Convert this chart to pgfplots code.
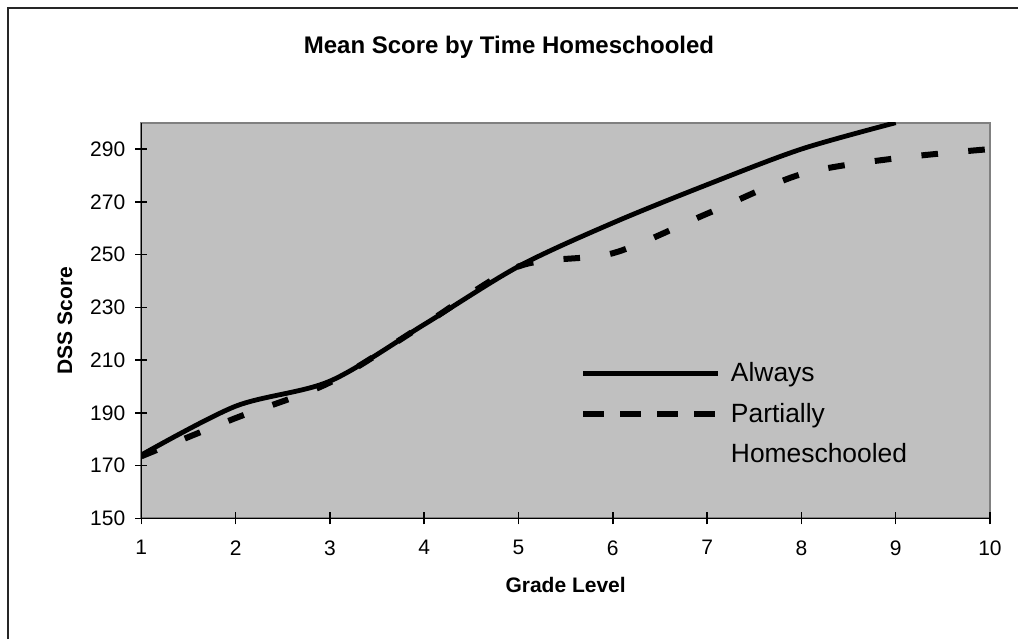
\documentclass[border=0pt]{standalone}
\usepackage{pgfplots}
\pgfplotsset{compat=1.18}
\usepackage{fontspec}
\setmainfont{Liberation Sans}
\definecolor{plotbg}{HTML}{C0C0C0}
\definecolor{plotborder}{HTML}{808080}
\begin{document}
\begin{tikzpicture}
\useasboundingbox (0pt,0pt) rectangle (509pt,319.5pt);
\draw[line width=1pt, black!85] (4pt,0pt) -- (4pt,315.5pt) -- (509pt,315.5pt);
\node[anchor=base, font=\bfseries\fontsize{12}{14}\selectfont] at (254.5pt,292.85pt) {Mean Score by Time Homeschooled};
\begin{axis}[
  at={(70.65pt,60.35pt)}, anchor=south west,
  scale only axis, width=424.35pt, height=197.8pt,
  xmin=1, xmax=10, ymin=150, ymax=300,
  xtick={1,2,...,10}, ytick={150,170,...,290},
  axis x line*=bottom, axis y line*=left,
  axis line style={-, black, line width=0.75pt},
  axis background/.style={fill=plotbg, draw=plotborder, line width=1pt},
  tick style={black, line width=0.75pt},
  tick align=center, major tick length=6pt,
  /pgf/number format/assume math mode=true,
  tick label style={font=\fontsize{10.5}{12}\selectfont},
  xticklabel style={yshift=-4.5pt},
  yticklabel style={xshift=-1.5pt},
  xlabel={Grade Level}, ylabel={DSS Score},
  label style={font=\bfseries\fontsize{10.5}{12}\selectfont},
  xlabel style={at={(axis description cs:0.5,-0.1888)}, anchor=base},
  ylabel style={at={(axis description cs:-0.0899,0.5)}, anchor=center, rotate=0},
  legend style={draw=none, fill=none, inner sep=0pt, at={(axis description cs:0.5169,0.2637)}, anchor=west,
    font=\fontsize{13.2}{15}\selectfont, row sep=9.1pt, column sep=5pt,
    nodes={inner sep=0pt}},
  legend cell align=left,
  legend image code/.code={\draw[#1] (0pt,0pt) -- (67.5pt,0pt);},
  clip=true,
]
\addplot[black, line width=2.4pt, smooth] coordinates {
(1,174) (2,192.5) (3,202) (4,223.5) (5,245.5) (6,262) (7,276.5) (8,290) (9,300)
};
\addlegendentry{Always}
\addplot[black, line width=3pt, smooth, dash pattern=on 8.3pt off 15.2pt,
  legend image post style={dash pattern=on 10.5pt off 8pt, line width=2.8pt}] coordinates {
(1,173.5) (2,188) (3,201.5) (4,223.5) (5,245.5) (6,250.5) (7,265.5) (8,280.5) (9,286.5) (10,290)
};
\addlegendentry{Partially}
\addlegendimage{empty legend}
\addlegendentry{Homeschooled\vphantom{y}}
\end{axis}
\end{tikzpicture}
\end{document}
